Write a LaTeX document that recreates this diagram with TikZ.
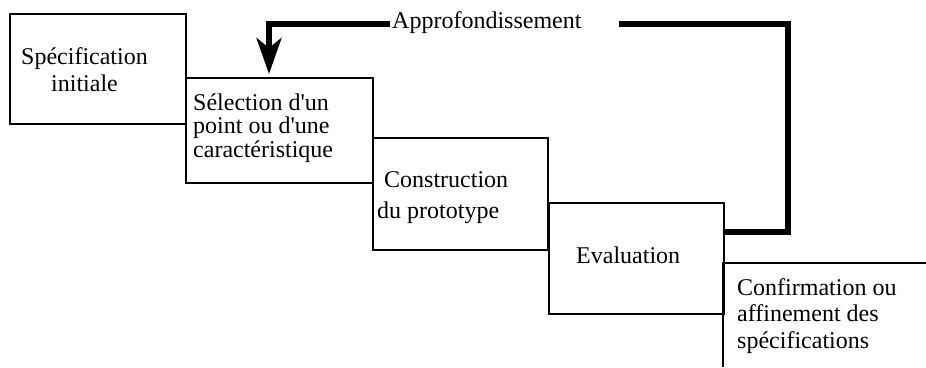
\documentclass[tikz,border=0pt]{standalone}
\usepackage{fontspec}
\setmainfont{Liberation Serif}
\usetikzlibrary{arrows.meta, positioning, calc}

\begin{document}
\begin{tikzpicture}[x=1pt, y=-1pt,
    stage/.style={draw, line width=2.2pt, inner sep=0pt, anchor=north west},
    txt/.style={inner sep=0pt, font=\fontsize{24}{26.5}\selectfont},
    loopline/.style={line width=5.5pt}]
    \useasboundingbox (0,0) rectangle (926,367);

    % Stages
    \node[stage, minimum width=176pt, minimum height=110pt] (spec) at (9,13) {};
    \node[stage, minimum width=187pt, minimum height=105pt] (sel) at (185,77) {};
    \node[stage, minimum width=175pt, minimum height=112pt] (cons) at (372,137) {};
    \node[stage, minimum width=175pt, minimum height=111pt] (eval) at (548,202) {};

    % Open last stage
    \coordinate (conf) at (723,263);
    \draw[line width=2.2pt] (926,263) -- (conf) -- (723,367);

    % Texts (base = last line)
    \node[txt, anchor=base, align=center] (spectxt) at (84.5,91) {Spécification\\initiale};
    \node[txt, anchor=base west, align=left, font=\fontsize{24}{23.5}\selectfont] (seltxt) at (193,157)
        {Sélection d\textquotesingle un\\point ou d\textquotesingle une\\caractéristique};
    \node[txt, anchor=base west, align=left, font=\fontsize{24}{31}\selectfont] (constxt) at (377,218)
        {\hspace*{7pt}Construction\\du prototype};
    \node[txt, anchor=base west] (evaltxt) at (576,263) {Evaluation};
    \node[txt, anchor=base west, align=left] (conftxt) at (737,348)
        {Confirmation ou\\affinement des\\spécifications};

    % Feedback loop
    \node[txt, anchor=base west] (appro) at (392,28) {Approfondissement};
    \coordinate (back) at (619,24);
    \draw[loopline] ($(eval.north east)+(0,30)$) -| (788,24) -- (back);
    \draw[loopline, -{Stealth[length=36pt, width=25pt, inset=10pt]}, shorten >=3pt]
        ($(appro.base west)+(-2,-4)$) -| ($(sel.north west)+(84,0)$);
\end{tikzpicture}
\end{document}
